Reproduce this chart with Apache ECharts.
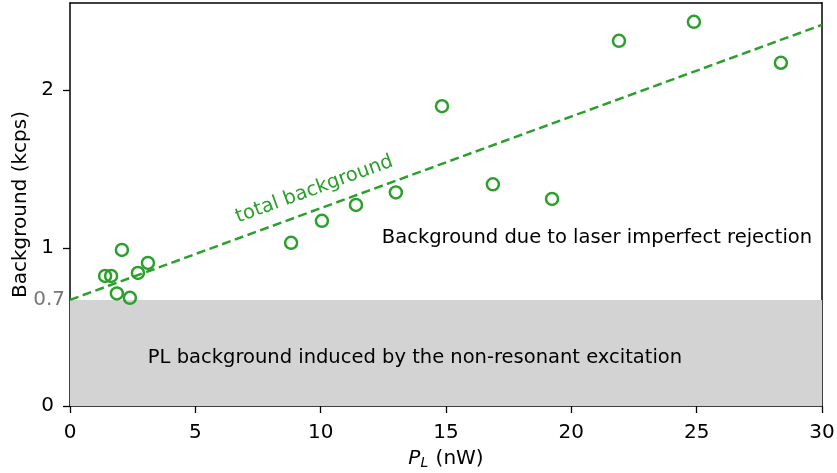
<!DOCTYPE html>
<html><head><meta charset="utf-8">
<script src="https://cdn.jsdelivr.net/npm/echarts@6/dist/echarts.min.js"></script>
<style>html,body{margin:0;padding:0;background:#fff}#c{width:837px;height:473px}</style>
</head><body><div id="c"></div>
<script>
// Measured data
const pL = [1.40, 1.64, 1.87, 2.07, 2.39, 2.71, 3.11, 8.82, 10.05, 11.41, 13.0, 14.84, 16.87, 19.23, 21.9, 24.89, 28.36];
const background = [0.823, 0.823, 0.712, 0.987, 0.684, 0.842, 0.905, 1.032, 1.171, 1.272, 1.351, 1.896, 1.402, 1.310, 2.310, 2.430, 2.171];
const fitX = [0, 30];
const fitY = [0.671, 2.411];
const plLevel = 0.671;
const xTicks = [0, 5, 10, 15, 20, 25, 30];
const yTicks = [0, 1, 2];
const yLabels = [0, plLevel, 1, 2];

const green = '#2ca02c';
const font = 'DejaVu Sans';
const fs = 20;
const fsNote = 19.5;

const chart = echarts.init(document.getElementById('c'), null, {renderer: 'canvas'});
const grid = {left: 70, right: 15, top: 3, bottom: 67, containLabel: false, outerBoundsMode: 'none'};
const axisLine = {show: true, onZero: false, lineStyle: {color: '#000', width: 1.5}};
chart.setOption({
  animation: false,
  textStyle: {fontFamily: font},
  grid: grid,
  xAxis: [{
    type: 'value', min: 0, max: 30, interval: 5,
    axisLine: axisLine,
    axisTick: {show: true, length: 7, lineStyle: {color: '#000', width: 1.3}},
    axisLabel: {fontFamily: font, fontSize: fs, color: '#000', margin: 17},
    splitLine: {show: false},
    name: '{i|P}{s|L} (nW)', nameLocation: 'middle', nameGap: 42, nameMoveOverlap: false,
    nameTextStyle: {fontFamily: font, fontSize: fs, color: '#000',
      rich: {i: {fontFamily: font, fontSize: fs, fontStyle: 'italic', color: '#000'},
             s: {fontFamily: font, fontSize: 14, fontStyle: 'italic', color: '#000', verticalAlign: 'bottom', padding: [8, 1, 0, 0]}}}
  }, {
    type: 'value', min: 0, max: 30, position: 'top',
    axisLine: axisLine, axisTick: {show: false}, axisLabel: {show: false}, splitLine: {show: false}
  }],
  yAxis: [{
    type: 'value', min: 0, max: 2.549,
    axisLine: axisLine,
    axisTick: {show: true, length: 7, customValues: yTicks, lineStyle: {color: '#000', width: 1.3}},
    axisLabel: {fontFamily: font, fontSize: fs, color: '#000', margin: 5, customValues: yLabels,
      formatter: v => (Math.abs(v - plLevel) < 1e-6 ? '{g|' + v.toFixed(1) + '}' : '{n|' + v + '}'),
      rich: {g: {fontFamily: font, fontSize: fs, color: '#777'},
             n: {fontFamily: font, fontSize: fs, color: '#000', padding: [0, 11, 0, 0]}}},
    splitLine: {show: false},
    name: 'Background (kcps)', nameLocation: 'middle', nameGap: 39, nameMoveOverlap: false,
    nameTextStyle: {fontFamily: font, fontSize: fs, color: '#000'}
  }, {
    type: 'value', min: 0, max: 2.549, position: 'right',
    axisLine: axisLine, axisTick: {show: false}, axisLabel: {show: false}, splitLine: {show: false}
  }],
  series: [{
    type: 'line', data: fitX.map((x, i) => [x, fitY[i]]),
    symbol: 'none', lineStyle: {color: green, width: 2.5, type: [9, 4.5]}, z: 3,
    markArea: {silent: true, itemStyle: {color: '#d3d3d3'},
      data: [[{xAxis: 0, yAxis: 0}, {xAxis: 30, yAxis: plLevel}]]}
  }, {
    type: 'scatter', data: pL.map((x, i) => [x, background[i]]),
    symbol: 'circle', symbolSize: 12,
    itemStyle: {color: 'rgba(0,0,0,0)', borderColor: green, borderWidth: 2.5, opacity: 1}, z: 4
  }]
});

const tb = chart.convertToPixel({xAxisIndex: 0, yAxisIndex: 0}, [9.75, 1.37]);
chart.setOption({graphic: [
  {type: 'text', x: tb[0], y: tb[1], rotation: 20 * Math.PI / 180, z: 100,
   style: {text: 'total background', fill: green, font: fsNote + 'px "DejaVu Sans"', align: 'center', verticalAlign: 'middle'}},
  {type: 'text', x: 597, y: 238, z: 100,
   style: {text: 'Background due to laser imperfect rejection', fill: '#000', font: fsNote + 'px "DejaVu Sans"', align: 'center', verticalAlign: 'middle'}},
  {type: 'text', x: 415, y: 358, z: 100,
   style: {text: 'PL background induced by the non-resonant excitation', fill: '#000', font: fsNote + 'px "DejaVu Sans"', align: 'center', verticalAlign: 'middle'}}
]});
</script></body></html>
